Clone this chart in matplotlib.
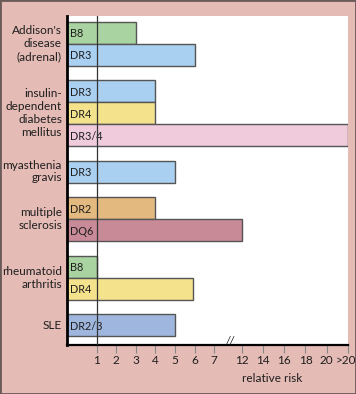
import numpy as np
import matplotlib
matplotlib.use("Agg")
import matplotlib.pyplot as plt
import matplotlib.transforms as mtransforms

# groups of bars, top to bottom
diseases = ["Addison's\ndisease\n(adrenal)", "insulin-\ndependent\ndiabetes\nmellitus",
            "myasthenia\ngravis", "multiple\nsclerosis", "rheumatoid\narthritis", "SLE"]
alleles = [["B8", "DR3"], ["DR3", "DR4", "DR3/4"], ["DR3"], ["DR2", "DQ6"], ["B8", "DR4"], ["DR2/3"]]
risk = [[3, 6], [4, 4, 22], [5], [4, 12], [1, 5.9], [5]]
allele_colors = {"B8": "#a9d3a0", "DR3": "#a9cff1", "DR4": "#f4e28c", "DR3/4": "#efcbdb",
                 "DR2": "#e4b97f", "DQ6": "#c98a97", "DR2/3": "#9fb7de"}
tick_values = [1, 2, 3, 4, 5, 6, 7, 12, 14, 16, 18, 20, 22]
tick_labels = ["1", "2", "3", "4", "5", "6", "7", "12", "14", "16", "18", "20", ">20"]

# broken axis: 1..7 wide steps, 12..>20 narrow steps
knots_v = [-20, -0.52, 7, 12, 22, 60]
knots_p = [-20 * 19.5, -0.52 * 19.5, 7 * 19.5, 7 * 19.5 + 27.5, 7 * 19.5 + 27.5 + 106, 7 * 19.5 + 27.5 + 106 + 400]


def fwd(v):
    return np.interp(v, knots_v, knots_p)


def inv(p):
    return np.interp(p, knots_p, knots_v)


plt.rcParams['font.family'] = ['Lato', 'DejaVu Sans']
bg = "#e4bbb5"
ink = "#1e1e1e"

fig = plt.figure(figsize=(3.56, 3.94), dpi=100, facecolor=bg)
ax = fig.add_axes([67 / 356, 49 / 394, 281 / 356, 329 / 394])
ax.set_xscale('function', functions=(fwd, inv))
ax.set_xlim(-0.52, 22)

h = 1.0
gap = 0.66
y = 0.25
for name, als, vals in zip(diseases, alleles, risk):
    top = y
    for a, v in zip(als, vals):
        ax.barh(y + h / 2, v - (-0.52), left=-0.52, height=h, color=allele_colors[a],
                edgecolor="#555555", linewidth=1.0, zorder=2)
        ax.text(-0.38, y + h / 2 + 0.05, a, ha="left", va="center", fontsize=7.8, color=ink, zorder=3)
        y += h
    ax.text(-0.018, 1 - ((top + y) / 2) / 14.95, name, transform=ax.transAxes, ha="right", va="center",
            fontsize=8.5, linespacing=1.2, color=ink)
    y += gap

ax.set_ylim(14.95, 0)
ax.axvline(1, color="#333333", lw=0.9, zorder=4)

ax.set_xticks(tick_values)
ax.set_xticklabels(tick_labels, fontsize=8.5, color=ink)
ax.set_yticks([])
ax.tick_params(axis="x", length=6, width=0.8, color="#888888", pad=1)
ax.xaxis.set_minor_locator(matplotlib.ticker.NullLocator())
# keep ">20" inside the frame
last = ax.get_xticklabels()[-1]
last.set_transform(last.get_transform() + mtransforms.ScaledTranslation(-2.5 / 100, 0, fig.dpi_scale_trans))
for s in ["top", "right"]:
    ax.spines[s].set_visible(False)
ax.spines["left"].set_linewidth(2)
ax.spines["bottom"].set_linewidth(1.6)

# break mark
ax.text(9.9, 14.75, "//", ha="center", va="center", fontsize=8, style="italic", color=ink)
ax.text(0.73, -0.085, "relative risk", transform=ax.transAxes, ha="center", va="top", fontsize=8.5,
        color=ink)

fig.patches.append(plt.Rectangle((0, 0), 1, 1, transform=fig.transFigure, fill=False,
                                 edgecolor="#6a5a58", linewidth=2))
fig.savefig("out.png", dpi=100, facecolor=bg)
